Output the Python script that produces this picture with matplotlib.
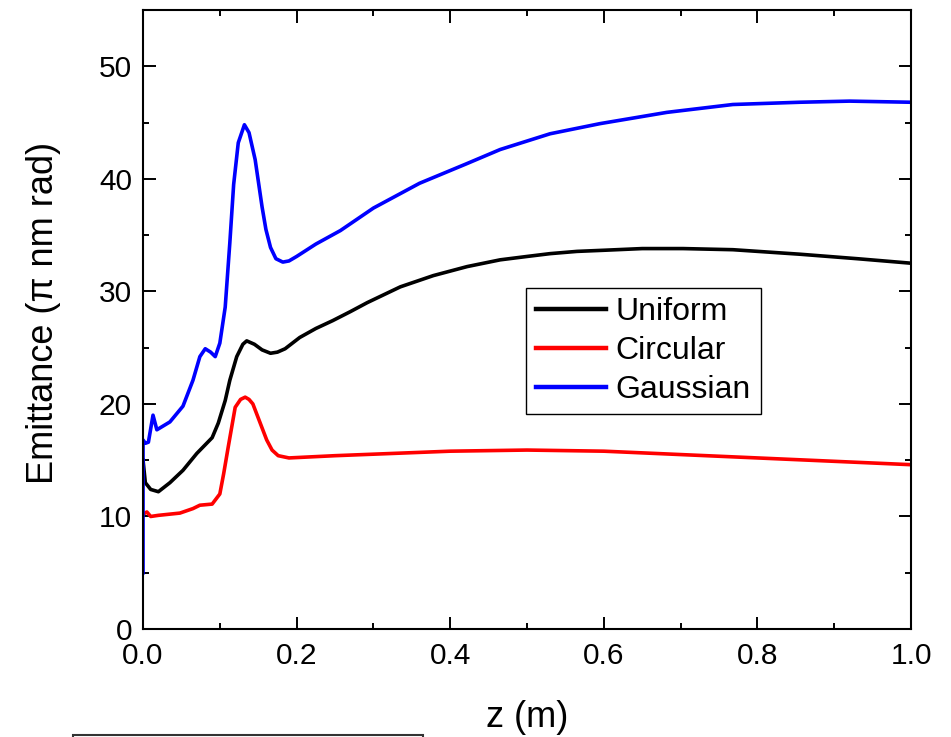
import numpy as np
import matplotlib.pyplot as plt
from matplotlib.ticker import MultipleLocator
from matplotlib.patches import Rectangle

plt.rcParams['font.family'] = ['Liberation Sans', 'DejaVu Sans']

# Uniform beam
z_uni = [0.0, 0.003, 0.01, 0.02, 0.035, 0.052, 0.07, 0.09, 0.098, 0.107, 0.113,
         0.122, 0.13, 0.135, 0.145, 0.155, 0.166, 0.175, 0.185, 0.204, 0.225,
         0.247, 0.27, 0.292, 0.335, 0.378, 0.422, 0.465, 0.5, 0.53, 0.565, 0.6,
         0.65, 0.703, 0.768, 0.855, 0.93, 1.0]
e_uni = [15.0, 13.0, 12.4, 12.2, 13.0, 14.1, 15.6, 17.0, 18.3, 20.3, 22.1,
         24.2, 25.3, 25.6, 25.3, 24.8, 24.5, 24.6, 24.9, 25.9, 26.7,
         27.4, 28.2, 29.0, 30.4, 31.4, 32.2, 32.8, 33.1, 33.35, 33.55, 33.65,
         33.8, 33.8, 33.7, 33.3, 32.9, 32.5]

# Circular beam
z_cir = [0.0, 0.005, 0.01, 0.02, 0.048, 0.065, 0.074, 0.09, 0.1, 0.105, 0.111,
         0.12, 0.127, 0.133, 0.138, 0.143, 0.152, 0.161, 0.168, 0.176, 0.19,
         0.25, 0.4, 0.5, 0.6, 0.7, 0.8, 0.9, 1.0]
e_cir = [10.2, 10.4, 10.0, 10.1, 10.3, 10.7, 11.0, 11.1, 12.0, 13.8, 16.2,
         19.7, 20.4, 20.6, 20.4, 20.0, 18.4, 16.8, 15.9, 15.4, 15.2,
         15.4, 15.8, 15.9, 15.8, 15.5, 15.2, 14.9, 14.6]

# Gaussian beam
z_gau = [0.0, 0.0, 0.003, 0.007, 0.013, 0.018, 0.035, 0.052, 0.065, 0.074,
         0.081, 0.088, 0.094, 0.1, 0.107, 0.113, 0.118, 0.124, 0.132, 0.138,
         0.146, 0.155, 0.16, 0.166, 0.173, 0.182, 0.19, 0.2, 0.225, 0.257, 0.3,
         0.36, 0.42, 0.465, 0.53, 0.595, 0.682, 0.768, 0.855, 0.92, 1.0]
e_gau = [5.0, 16.8, 16.5, 16.6, 19.0, 17.7, 18.4, 19.8, 22.1, 24.2,
         24.9, 24.6, 24.2, 25.4, 28.6, 34.3, 39.5, 43.2, 44.8, 44.1,
         41.7, 37.5, 35.5, 33.9, 32.9, 32.6, 32.7, 33.1, 34.2, 35.4, 37.4,
         39.6, 41.3, 42.6, 44.0, 44.9, 45.9, 46.6, 46.8, 46.9, 46.8]

fig = plt.figure(figsize=(9.51, 7.37), dpi=100)
ax = fig.add_axes([0.1504, 0.1465, 0.8076, 0.84])

ax.plot(z_uni, e_uni, color='black', lw=2.6, label='Uniform')
ax.plot(z_cir, e_cir, color='red', lw=2.6, label='Circular')
ax.plot(z_gau, e_gau, color='blue', lw=2.6, label='Gaussian')

ax.set_xlim(0, 1.0)
ax.set_ylim(0, 55)
ax.xaxis.set_major_locator(MultipleLocator(0.2))
ax.xaxis.set_minor_locator(MultipleLocator(0.1))
ax.yaxis.set_major_locator(MultipleLocator(10))
ax.yaxis.set_minor_locator(MultipleLocator(5))
ax.set_xticks([0, 0.2, 0.4, 0.6, 0.8, 1.0])
ax.set_xticklabels(['0.0', '0.2', '0.4', '0.6', '0.8', '1.0'])

ax.tick_params(which='both', direction='in', top=True, right=True, width=1.4)
ax.tick_params(which='major', length=9, labelsize=21.5)
ax.tick_params(which='minor', length=4.5)
ax.tick_params(axis='x', pad=9)
ax.tick_params(axis='y', pad=8)
for s in ax.spines.values():
    s.set_linewidth(1.5)

ax.set_xlabel('z (m)', fontsize=26)
ax.set_ylabel('Emittance (π nm rad)', fontsize=26)
ax.xaxis.set_label_coords(0.5, -0.115)
ax.yaxis.set_label_coords(-0.107, 0.51)

leg = ax.legend(loc='upper left', bbox_to_anchor=(0.499, 0.551), borderaxespad=0,
                fontsize=23, handlelength=2.2, handletextpad=0.3, borderpad=0.3,
                labelspacing=0.27, fancybox=False, edgecolor='black', framealpha=1)
leg.get_frame().set_linewidth(1.0)
for h in leg.get_lines():
    h.set_linewidth(3.2)

# clipped box at the bottom edge
fig.patches.append(Rectangle((0.077, -0.05), 0.368, 0.053, fill=False,
                             edgecolor='#333333', lw=1.5, transform=fig.transFigure,
                             figure=fig))

fig.savefig('out.png', dpi=100)
